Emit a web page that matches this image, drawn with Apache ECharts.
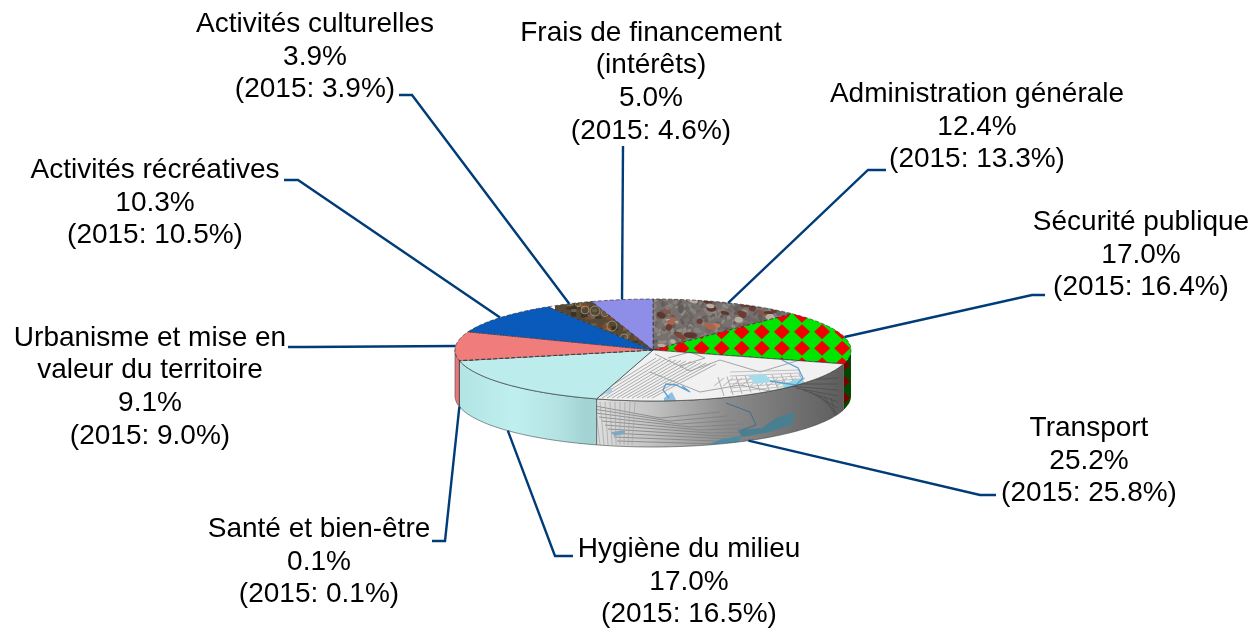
<!DOCTYPE html>
<html>
<head>
<meta charset="utf-8">
<style>
  html, body { margin: 0; padding: 0; background: #fff; }
  #main { width: 1253px; height: 628px; }
</style>
<script src="https://cdn.jsdelivr.net/npm/echarts@6/dist/echarts.min.js"></script>
</head>
<body>
<div id="main"></div>
<script>
// data
const categories = [
  "Administration générale", "Sécurité publique", "Transport", "Hygiène du milieu",
  "Santé et bien-être", "Urbanisme et mise en\nvaleur du territoire",
  "Activités récréatives", "Activités culturelles", "Frais de financement\n(intérêts)"
];
const shares = [12.4, 17.0, 25.2, 17.0, 0.1, 9.1, 10.3, 3.9, 5.0];
const shares2015 = [13.3, 16.4, 25.8, 16.5, 0.1, 9.0, 10.5, 3.9, 4.6];
const previousYear = "2015";

// layout of the labels, same order as categories
const labelCenters = [[977, 127], [1141, 255], [1089, 461], [689, 582], [319, 562], [150, 387], [155, 203], [315, 57], [651, 82]];
const elbowStarts = [[886, 170], [1045, 295], [996, 495], [573, 556], [432, 541], [288, 347], [284, 180], [399, 95], [623, 146]];
const elbowBends = [[868, 170], [1032, 295], [980, 495], [555, 556], [445, 541], [306, 347], [298, 180], [412, 95], [623, 146]];

// pie geometry
const pieLeft = 455, pieTop = 299, pieWidth = 396, pieHeight = 102, pieDepth = 46;
const lineColor = "#003c78";

function makeCanvas(draw) {
  const c = document.createElement("canvas");
  c.width = 1253;
  c.height = 628;
  draw(c.getContext("2d"));
  return { image: c, repeat: "no-repeat" };
}

let seed = 4711;
function rnd() {
  seed = (seed * 16807) % 2147483647;
  return seed / 2147483647;
}

function polyline(ctx, pts, color, width) {
  ctx.strokeStyle = color;
  ctx.lineWidth = width;
  ctx.beginPath();
  pts.forEach((p, i) => (i ? ctx.lineTo(p[0], p[1]) : ctx.moveTo(p[0], p[1])));
  ctx.stroke();
}

function blob(ctx, pts, color) {
  ctx.fillStyle = color;
  ctx.beginPath();
  pts.forEach((p, i) => (i ? ctx.lineTo(p[0], p[1]) : ctx.moveTo(p[0], p[1])));
  ctx.closePath();
  ctx.fill();
}

const rockTexture = makeCanvas(ctx => {
  ctx.fillStyle = "#77706c";
  ctx.fillRect(640, 290, 180, 70);
  ctx.filter = "blur(0.7px)";
  const greys = ["#6c6664", "#86817d", "#8f8a86", "#625c5a"];
  for (let i = 0; i < 500; i++) {
    ctx.fillStyle = greys[Math.floor(rnd() * 4)];
    ctx.beginPath();
    ctx.ellipse(645 + rnd() * 170, 295 + rnd() * 62, 1.5 + rnd() * 3, 1 + rnd() * 1.6, rnd() * 3, 0, 7);
    ctx.fill();
  }
  const browns = ["#6a3c32", "#7c4638", "#8c5444", "#5e362e", "#a8664f", "#bb7a60", "#b9aca0"];
  for (let i = 0; i < 46; i++) {
    ctx.fillStyle = browns[Math.floor(rnd() * 7)];
    ctx.beginPath();
    ctx.ellipse(645 + rnd() * 165, 297 + rnd() * 58, 2.5 + rnd() * 4.5, 1.5 + rnd() * 2, rnd() * 0.6, 0, 7);
    ctx.fill();
  }
});

function drawDiamonds(ctx, green, red) {
  ctx.fillStyle = green;
  ctx.fillRect(660, 300, 200, 160);
  ctx.fillStyle = red;
  for (let i = -5; i < 8; i++) {
    for (let j = -2; j < 10; j++) {
      const x = 741.7 + i * 20.1, y = 331.7 + j * 16.5;
      ctx.beginPath();
      ctx.moveTo(x - 8, y);
      ctx.lineTo(x, y - 7.5);
      ctx.lineTo(x + 8, y);
      ctx.lineTo(x, y + 7.5);
      ctx.closePath();
      ctx.fill();
    }
  }
}
const diamondTexture = makeCanvas(ctx => {
  ctx.filter = "blur(0.5px)";
  drawDiamonds(ctx, "#00e600", "#f20000");
});
const diamondSide = makeCanvas(ctx => {
  drawDiamonds(ctx, "#004a00", "#7a0000");
  ctx.fillStyle = "#d9e8d9";
  ctx.fillRect(842, 360, 1.5, 60);
});

const mapTexture = makeCanvas(ctx => {
  ctx.fillStyle = "#f1f1f1";
  ctx.fillRect(580, 340, 280, 70);
  ctx.filter = "blur(0.4px)";
  const grey = "#a4a4a4";
  for (let i = 0; i < 13; i++) {
    polyline(ctx, [[592 + i * 5, 398], [656 + i * 5, 358 + i * 0.5]], grey, 0.9);
  }
  polyline(ctx, [[655, 354], [690, 371], [720, 360], [760, 372], [800, 360]], grey, 1);
  polyline(ctx, [[650, 372], [700, 392], [740, 385], [790, 395]], grey, 1);
  polyline(ctx, [[680, 366], [705, 358], [690, 352], [668, 358]], grey, 1);
  for (let i = 0; i < 10; i++) {
    polyline(ctx, [[718 + i * 9, 377 - i * 0.4], [724 + i * 9, 396 - i * 1.2]], grey, 0.9);
    polyline(ctx, [[714 + i * 9, 386], [724 + i * 9, 378]], grey, 0.8);
  }
  for (let i = 0; i < 6; i++) {
    polyline(ctx, [[730, 372 + i * 4], [800, 370 + i * 3]], "#b4b4b4", 0.8);
  }
  blob(ctx, [[748, 376], [765, 374], [772, 382], [755, 384]], "#a5dcec");
  blob(ctx, [[782, 384], [802, 378], [804, 386], [788, 392]], "#8fd7ea");
  blob(ctx, [[664, 398], [672, 392], [678, 404], [664, 406]], "#8cc0de");
  blob(ctx, [[602, 389], [612, 388], [612, 393], [604, 394]], "#a9cfe6");
  polyline(ctx, [[782, 360], [798, 368], [803, 378], [796, 385], [770, 381]], "#5a9fd0", 1.3);
  polyline(ctx, [[669, 398], [663, 390], [666, 384], [676, 385], [690, 392], [682, 386]], "#5a9fd0", 1.3);
});

const mapSide = makeCanvas(ctx => {
  const g = ctx.createLinearGradient(585, 0, 842, 0);
  g.addColorStop(0, "#e4e4e4");
  g.addColorStop(0.25, "#c4c4c4");
  g.addColorStop(0.55, "#8c8c8c");
  g.addColorStop(1, "#5e5e5e");
  ctx.fillStyle = g;
  ctx.fillRect(580, 350, 270, 110);
  ctx.filter = "blur(0.5px)";
  for (let i = 0; i < 10; i++) {
    polyline(ctx, [[590 + i * 3, 405 + i * 4], [660 + i * 10, 418 + i * 3], [720 + i * 8, 412 + i * 4]], "#7f7f7f", 0.8);
  }
  for (let i = 0; i < 9; i++) {
    polyline(ctx, [[775 + i * 7, 382 + i * 2], [838, 378 + i * 6]], "#505050", 0.9);
    polyline(ctx, [[595 + i * 5, 402], [600 + i * 4, 445]], "#a4a4a4", 0.7);
  }
  polyline(ctx, [[726, 403], [750, 412], [756, 425], [742, 430]], "#3f6f85", 1);
  blob(ctx, [[738, 430], [762, 428], [776, 418], [794, 412], [793, 424], [770, 432], [742, 437]], "#4a7f92");
  blob(ctx, [[707, 445], [722, 439], [742, 436], [738, 443], [715, 449]], "#4f8ba0");
  blob(ctx, [[612, 432], [625, 430], [625, 434], [614, 436]], "#7ea9c4");
});

const ornateTexture = makeCanvas(ctx => {
  ctx.fillStyle = "#574835";
  ctx.fillRect(555, 295, 100, 60);
  ctx.filter = "blur(0.5px)";
  ["#7a4a2a", "#3a3226", "#8a5a30", "#6b6350"].forEach(c => {
    for (let i = 0; i < 26; i++) {
      ctx.fillStyle = c;
      ctx.fillRect(560 + rnd() * 85, 298 + rnd() * 50, 3 + rnd() * 5, 2 + rnd() * 3);
    }
  });
  ctx.strokeStyle = "#9d947c";
  ctx.lineWidth = 0.9;
  [[585, 310, 4], [595, 311, 5], [605, 313, 3.5], [612, 326, 5], [624, 338, 4], [632, 345, 2.5], [578, 304, 2.5]].forEach(r => {
    ctx.beginPath();
    ctx.arc(r[0], r[1], r[2], 0, 6.3);
    ctx.stroke();
  });
});

function sideGradient(stops) {
  return { type: "linear", x: 458, y: 0, x2: 585, y2: 0, global: true, colorStops: stops };
}

const topFills = [rockTexture, diamondTexture, mapTexture, "#bcecec", "#e8a0a0", "#f07c7c", "#0a5abb", ornateTexture, "#8e8ee8"];
const sideFills = [
  null, diamondSide, mapSide,
  sideGradient([{ offset: 0, color: "#b2e4e4" }, { offset: 0.45, color: "#c0efef" }, { offset: 0.8, color: "#b4e2e2" }, { offset: 1, color: "#a3d3d3" }]),
  "#c98a8a", "#e87878", null, null, null
];

// cumulative start and end of each slice, in percent
const slices = [];
let running = 0;
shares.forEach((v, i) => {
  slices.push([running, running + v, i]);
  running += v;
});

const toTurn = pct => (pct / 100) * 2 * Math.PI;

function rimPoint(api, t, drop) {
  const p = api.coord([Math.sin(t), Math.cos(t)]);
  return [p[0], p[1] + drop];
}

function arc(api, from, to, drop) {
  const pts = [];
  const steps = Math.max(2, Math.ceil((to - from) / 0.015));
  for (let k = 0; k <= steps; k++) pts.push(rimPoint(api, from + ((to - from) * k) / steps, drop));
  return pts;
}

function renderSide(params, api) {
  const i = api.value(2);
  const from = Math.max(toTurn(api.value(0)), Math.PI / 2);
  const to = Math.min(toTurn(api.value(1)), (3 * Math.PI) / 2);
  if (to <= from) return null;
  const points = arc(api, from, to, 0).concat(arc(api, from, to, pieDepth).reverse());
  return {
    type: "polygon",
    shape: { points },
    style: { fill: sideFills[i], stroke: i === 1 ? null : "rgba(60,70,70,0.75)", lineWidth: 0.8 }
  };
}

function renderTop(params, api) {
  const i = api.value(2);
  const points = [api.coord([0, 0])].concat(arc(api, toTurn(api.value(0)), toTurn(api.value(1)), 0));
  return {
    type: "polygon",
    shape: { points },
    style: { fill: topFills[i], stroke: "rgba(45,45,45,0.8)", lineWidth: 0.8, lineDash: i === 2 || i === 3 ? null : [4, 2] }
  };
}

function renderLabel(params, api) {
  const i = api.value(2);
  const mid = toTurn((api.value(0) + api.value(1)) / 2);
  const front = mid > Math.PI / 2 && mid < (3 * Math.PI) / 2;
  const anchor = rimPoint(api, mid, front ? pieDepth : 0);
  return {
    type: "group",
    children: [
      {
        type: "polyline",
        shape: { points: [elbowStarts[i], elbowBends[i], anchor] },
        style: { stroke: lineColor, lineWidth: 2.4, fill: null }
      },
      {
        type: "text",
        style: {
          text: categories[i] + "\n" + shares[i].toFixed(1) + "%\n(" + previousYear + ": " + shares2015[i].toFixed(1) + "%)",
          x: labelCenters[i][0],
          y: labelCenters[i][1],
          align: "center",
          verticalAlign: "middle",
          fill: "#000",
          font: "28px 'Liberation Sans', Arial, sans-serif",
          lineHeight: 32.6
        }
      }
    ]
  };
}

const myChart = echarts.init(document.getElementById("main"), null, { renderer: "canvas" });

myChart.setOption({
  animation: false,
  backgroundColor: "#fff",
  grid: { left: pieLeft, top: pieTop, width: pieWidth, height: pieHeight },
  xAxis: { type: "value", min: -1, max: 1, show: false },
  yAxis: { type: "value", min: -1, max: 1, show: false },
  series: [
    { type: "custom", clip: false, silent: true, z: 1, renderItem: renderSide, data: slices },
    { type: "custom", clip: false, silent: true, z: 2, renderItem: renderTop, data: slices },
    { type: "custom", clip: false, silent: true, z: 3, renderItem: renderLabel, data: slices }
  ]
});
</script>
</body>
</html>
